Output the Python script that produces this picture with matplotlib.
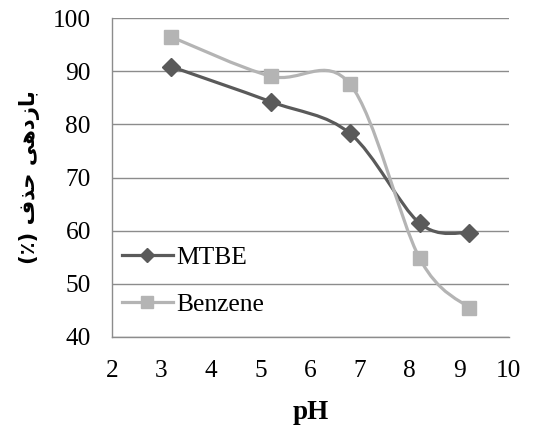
import numpy as np
import matplotlib
matplotlib.use("Agg")
import matplotlib.pyplot as plt
from matplotlib.path import Path
from matplotlib.patches import PathPatch
from matplotlib.lines import Line2D

ph = [3.2, 5.2, 6.8, 8.2, 9.2]
mtbe = [90.9, 84.3, 78.3, 61.4, 59.6]
benzene = [96.5, 89.1, 87.6, 54.8, 45.4]
series_names = ["MTBE", "Benzene"]
xticks = [2, 3, 4, 5, 6, 7, 8, 9, 10]
yticks = [40, 50, 60, 70, 80, 90, 100]
# Persian label "بازدهی حذف (٪)" written in presentation forms, visual order
ylabel_text = "(\u066a) \ufed1\ufeac\ufea3 \ufef0\ufeeb\ufea9\ufeaf\ufe8e\ufe91"
xlabel_text = "pH"

c_mtbe = "#5a5a5a"
c_benz = "#b4b4b4"
grid_c = "#8c8c8c"


def smooth_path(xs, ys):
    pts = np.column_stack([xs, ys]).astype(float)
    n = len(pts)
    verts = [pts[0]]
    codes = [Path.MOVETO]
    for i in range(n - 1):
        p0 = pts[i - 1] if i > 0 else pts[i]
        p1 = pts[i]
        p2 = pts[i + 1]
        p3 = pts[i + 2] if i + 2 < n else pts[i + 1]
        c1 = p1 + (p2 - p0) / 6.0
        c2 = p2 - (p3 - p1) / 6.0
        verts += [c1, c2, p2]
        codes += [Path.CURVE4] * 3
    return Path(verts, codes)


fig = plt.figure(figsize=(5.49, 4.25), dpi=100)
ax = fig.add_axes([0.2035, 0.2078, 0.7235, 0.749])

ax.set_xlim(2, 10)
ax.set_ylim(40, 100)
ax.set_xticks(xticks)
ax.set_yticks(yticks)
ax.yaxis.grid(True, color=grid_c, linewidth=1.0)
ax.set_axisbelow(True)
for s in ["top", "right"]:
    ax.spines[s].set_visible(False)
for s in ["left", "bottom"]:
    ax.spines[s].set_color(grid_c)
    ax.spines[s].set_linewidth(1.0)

ax.tick_params(axis="both", length=0)
ax.tick_params(axis="y", pad=15)
ax.tick_params(axis="x", pad=17)
for lab in ax.get_xticklabels() + ax.get_yticklabels():
    lab.set_fontfamily("Liberation Serif")
    lab.set_fontsize(18.3)

for ys, col, mk, ms in [(mtbe, c_mtbe, "D", 9), (benzene, c_benz, "s", 10.5)]:
    ax.add_patch(PathPatch(smooth_path(ph, ys), facecolor="none",
                           edgecolor=col, linewidth=2.3, zorder=3))
    ax.plot(ph, ys, linestyle="none", marker=mk, markersize=ms,
            color=col, zorder=4)

handles = [
    Line2D([], [], color=c_mtbe, lw=2.3, marker="D", markersize=7),
    Line2D([], [], color=c_benz, lw=2.3, marker="s", markersize=8.5),
]
leg = ax.legend(handles, series_names, loc="center left",
                bbox_to_anchor=(0.0, 0.175), frameon=False,
                prop={"family": "Liberation Serif", "size": 18.4},
                handlelength=2.0, handletextpad=0.12, labelspacing=0.95,
                borderaxespad=0.0)

ax.set_xlabel(xlabel_text, fontfamily="Liberation Serif", fontweight="bold",
              fontsize=19.5, labelpad=13)
ax.set_ylabel(ylabel_text, fontfamily=["DejaVu Sans"], fontweight="bold",
              fontsize=15.2, labelpad=9)

fig.savefig("out.png", dpi=100)
